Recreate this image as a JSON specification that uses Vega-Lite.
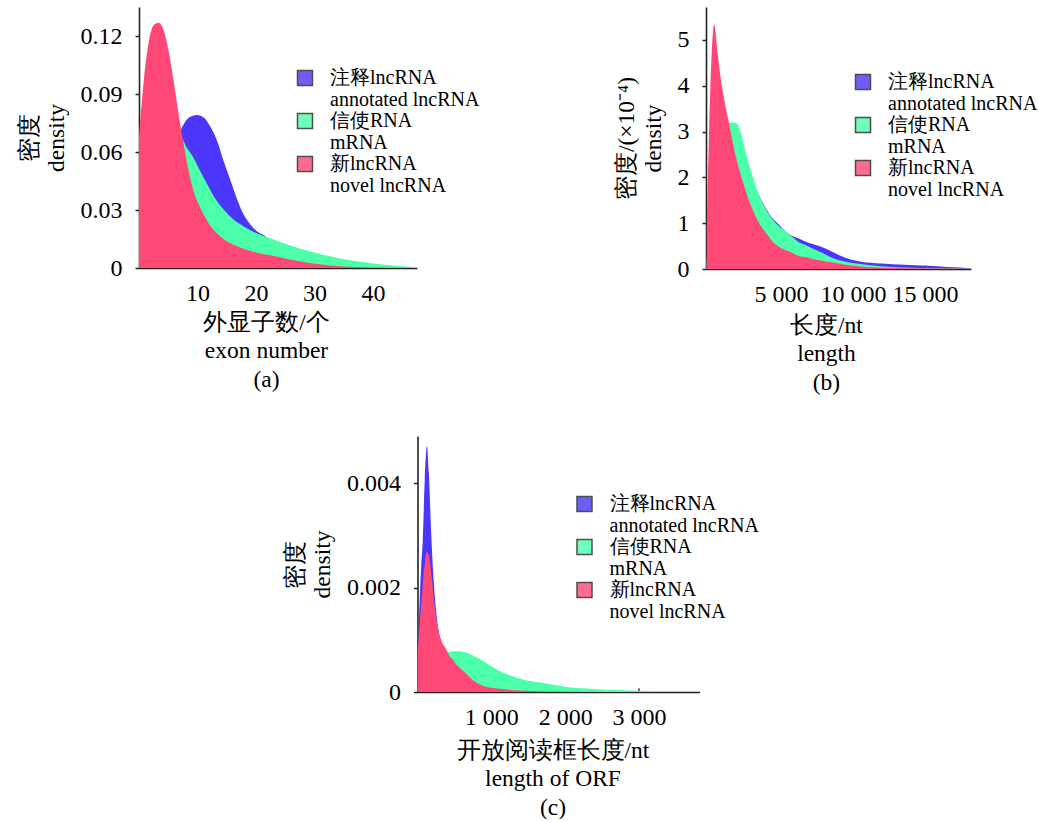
{
  "$schema": "https://vega.github.io/schema/vega-lite/v6.json",
  "background": "white",
  "padding": {"left": 17, "top": 7, "right": 0, "bottom": 0},
  "spacing": 42,
  "center": true,
  "resolve": {"scale": {"color": "independent"}, "legend": {"color": "independent"}},
  "config": {
    "view": {"stroke": null},
    "font": "Liberation Serif",
    "axis": {"grid": false, "domainColor": "#222", "domainWidth": 1.6, "tickColor": "#222", "tickWidth": 1.5, "labelFont": "Liberation Serif", "labelFontSize": 24, "labelColor": "#000", "titleFont": "Liberation Serif", "titleFontSize": 23.5, "titleFontWeight": "normal", "titleColor": "#000", "titleLineHeight": 28.5},
    "axisX": {"tickSize": -4, "labelPadding": 17, "labelFlush": false, "titlePadding": 6},
    "axisY": {"tickSize": 4, "labelPadding": 13, "titleLineHeight": 27, "titlePadding": 12},
    "legend": {"orient": "none", "title": null, "symbolType": "square", "symbolSize": 225, "symbolStrokeColor": "#222", "symbolStrokeWidth": 1.5, "symbolOpacity": 0.8, "labelFont": "Liberation Serif", "labelFontSize": 20, "labelLineHeight": 22, "labelColor": "#000", "labelOffset": 15, "rowPadding": 0, "padding": 0, "labelLimit": 300}
  },
  "vconcat": [
    {
      "hconcat": [
        {
          "width": 278,
          "height": 261,
          "data": {"values": [
            {"s":"A","x":0,"y":0.02},{"s":"A","x":2,"y":0.034},{"s":"A","x":4,"y":0.048},{"s":"A","x":6,"y":0.063},{"s":"A","x":7.09,"y":0.0713},{"s":"A","x":8.23,"y":0.077},{"s":"A","x":9.09,"y":0.0786},{"s":"A","x":9.94,"y":0.0791},{"s":"A","x":11.1,"y":0.0777},{"s":"A","x":12.2,"y":0.073},{"s":"A","x":13.4,"y":0.0653},{"s":"A","x":14.5,"y":0.055},{"s":"A","x":15.7,"y":0.0447},{"s":"A","x":16.8,"y":0.0352},{"s":"A","x":17.9,"y":0.0275},{"s":"A","x":19.1,"y":0.0223},{"s":"A","x":20.2,"y":0.0189},{"s":"A","x":21.7,"y":0.0162},{"s":"A","x":23,"y":0.011},{"s":"A","x":25,"y":0.006},{"s":"A","x":28,"y":0.0025},{"s":"A","x":32,"y":0.0008},{"s":"A","x":36,"y":0.0002},{"s":"A","x":40,"y":0},
            {"s":"G","x":0,"y":0.03},{"s":"G","x":2,"y":0.045},{"s":"G","x":4,"y":0.056},{"s":"G","x":6,"y":0.064},{"s":"G","x":7.09,"y":0.0675},{"s":"G","x":8.23,"y":0.0619},{"s":"G","x":9.37,"y":0.0567},{"s":"G","x":10.5,"y":0.0499},{"s":"G","x":11.7,"y":0.043},{"s":"G","x":12.8,"y":0.037},{"s":"G","x":14.5,"y":0.0301},{"s":"G","x":16.2,"y":0.0249},{"s":"G","x":17.9,"y":0.0215},{"s":"G","x":19.7,"y":0.0185},{"s":"G","x":21.7,"y":0.0162},{"s":"G","x":23.7,"y":0.014},{"s":"G","x":25,"y":0.0125},{"s":"G","x":27.3,"y":0.0102},{"s":"G","x":30.1,"y":0.0079},{"s":"G","x":33,"y":0.0058},{"s":"G","x":35.8,"y":0.0042},{"s":"G","x":38.7,"y":0.0029},{"s":"G","x":41.5,"y":0.0018},{"s":"G","x":44.4,"y":0.001},{"s":"G","x":47.2,"y":0.0004},
            {"s":"N","x":0,"y":0.068},{"s":"N","x":0.8,"y":0.0963},{"s":"N","x":1.66,"y":0.117},{"s":"N","x":2.5,"y":0.1255},{"s":"N","x":3.37,"y":0.1269},{"s":"N","x":4.23,"y":0.123},{"s":"N","x":5.09,"y":0.1117},{"s":"N","x":5.94,"y":0.0963},{"s":"N","x":6.8,"y":0.079},{"s":"N","x":7.66,"y":0.0636},{"s":"N","x":8.5,"y":0.0499},{"s":"N","x":9.37,"y":0.0395},{"s":"N","x":10.5,"y":0.031},{"s":"N","x":11.9,"y":0.0232},{"s":"N","x":13.9,"y":0.0163},{"s":"N","x":16.8,"y":0.0112},{"s":"N","x":19.7,"y":0.0083},{"s":"N","x":23.1,"y":0.0062},{"s":"N","x":27.3,"y":0.0035},{"s":"N","x":30,"y":0.0022},{"s":"N","x":33,"y":0.0012},{"s":"N","x":38.7,"y":0.0004},{"s":"N","x":44,"y":0.0001},{"s":"N","x":47.5,"y":0}
          ]},
          "encoding": {
            "x": {"field": "x", "type": "quantitative", "scale": {"domain": [0, 47.5], "nice": false, "zero": false}, "axis": {"values": [10, 20, 30, 40], "title": ["外显子数/个", "exon number", "(a)"], "titleX": 127, "titlePadding": 5}},
            "y": {"field": "y", "type": "quantitative", "stack": null, "scale": {"domain": [0, 0.135], "nice": false}, "axis": {"values": [0, 0.03, 0.06, 0.09, 0.12], "labelExpr": "datum.value==0?'0':format(datum.value,'.2f')", "title": ["密度", "density"]}},
            "color": {"field": "s", "type": "nominal", "scale": {"domain": ["A", "G", "N"], "range": ["#4b36fa", "#4cffa9", "#ff4876"]}, "legend": {"legendX": 156, "legendY": 61, "labelExpr": "datum.label=='A'?['注释lncRNA','annotated lncRNA']:datum.label=='G'?['信使RNA','mRNA']:['新lncRNA','novel lncRNA']"}}
          },
          "layer": [
            {"transform": [{"filter": "datum.s=='A'"}], "mark": {"type": "area", "interpolate": "monotone", "clip": true}},
            {"transform": [{"filter": "datum.s=='G'"}], "mark": {"type": "area", "interpolate": "monotone", "clip": true}},
            {"transform": [{"filter": "datum.s=='N'"}], "mark": {"type": "area", "interpolate": "monotone", "clip": true}}
          ]
        },
        {
          "width": 265,
          "height": 262,
          "data": {"values": [
            {"s":"A","x":-150,"y":0.1},{"s":"A","x":200,"y":1.5},{"s":"A","x":400,"y":2.2},{"s":"A","x":800,"y":2.5},{"s":"A","x":1400,"y":2.75},{"s":"A","x":2000,"y":2.85},{"s":"A","x":2500,"y":2.55},{"s":"A","x":3000,"y":2.0},{"s":"A","x":3500,"y":1.6},{"s":"A","x":4000,"y":1.3},{"s":"A","x":4422,"y":1.1},{"s":"A","x":4885,"y":0.96},{"s":"A","x":5116,"y":0.88},{"s":"A","x":5579,"y":0.76},{"s":"A","x":6274,"y":0.66},{"s":"A","x":6968,"y":0.57},{"s":"A","x":7663,"y":0.5},{"s":"A","x":8357,"y":0.41},{"s":"A","x":9052,"y":0.3},{"s":"A","x":9900,"y":0.2},{"s":"A","x":10590,"y":0.16},{"s":"A","x":11970,"y":0.12},{"s":"A","x":13590,"y":0.095},{"s":"A","x":15200,"y":0.07},{"s":"A","x":16580,"y":0.045},{"s":"A","x":17500,"y":0.035},{"s":"A","x":18200,"y":0.01},
            {"s":"G","x":-150,"y":0.2},{"s":"G","x":300,"y":1.5},{"s":"G","x":600,"y":2.4},{"s":"G","x":1000,"y":3.0},{"s":"G","x":1412,"y":3.19},{"s":"G","x":1700,"y":3.2},{"s":"G","x":1991,"y":3.16},{"s":"G","x":2222,"y":2.97},{"s":"G","x":2454,"y":2.68},{"s":"G","x":2686,"y":2.39},{"s":"G","x":3033,"y":2.03},{"s":"G","x":3380,"y":1.7},{"s":"G","x":3611,"y":1.52},{"s":"G","x":3959,"y":1.3},{"s":"G","x":4422,"y":1.08},{"s":"G","x":4885,"y":0.93},{"s":"G","x":5348,"y":0.82},{"s":"G","x":5811,"y":0.7},{"s":"G","x":6274,"y":0.58},{"s":"G","x":6737,"y":0.52},{"s":"G","x":7200,"y":0.45},{"s":"G","x":7663,"y":0.38},{"s":"G","x":8126,"y":0.31},{"s":"G","x":8589,"y":0.24},{"s":"G","x":9052,"y":0.19},{"s":"G","x":9970,"y":0.13},{"s":"G","x":11100,"y":0.09},{"s":"G","x":12000,"y":0.06},{"s":"G","x":14000,"y":0.03},{"s":"G","x":16000,"y":0.015},{"s":"G","x":18200,"y":0.004},
            {"s":"N","x":-150,"y":0.9},{"s":"N","x":23,"y":3.1},{"s":"N","x":208,"y":4.8},{"s":"N","x":370,"y":5.34},{"s":"N","x":602,"y":4.72},{"s":"N","x":833,"y":4.14},{"s":"N","x":1065,"y":3.7},{"s":"N","x":1412,"y":3.16},{"s":"N","x":1759,"y":2.61},{"s":"N","x":2107,"y":2.17},{"s":"N","x":2570,"y":1.7},{"s":"N","x":3033,"y":1.3},{"s":"N","x":3496,"y":1.0},{"s":"N","x":3959,"y":0.79},{"s":"N","x":4422,"y":0.6},{"s":"N","x":4885,"y":0.48},{"s":"N","x":5348,"y":0.41},{"s":"N","x":5811,"y":0.35},{"s":"N","x":6274,"y":0.28},{"s":"N","x":6737,"y":0.26},{"s":"N","x":7200,"y":0.22},{"s":"N","x":7663,"y":0.19},{"s":"N","x":8126,"y":0.165},{"s":"N","x":8816,"y":0.13},{"s":"N","x":9970,"y":0.07},{"s":"N","x":11100,"y":0.04},{"s":"N","x":12270,"y":0.03},{"s":"N","x":14580,"y":0.015},{"s":"N","x":18050,"y":0.005}
          ]},
          "encoding": {
            "x": {"field": "x", "type": "quantitative", "scale": {"domain": [-200, 18200], "nice": false, "zero": false}, "axis": {"values": [5000, 10000, 15000], "labelExpr": "replace(format(datum.value, ','), ',', ' ')", "title": ["长度/nt", "length", "(b)"], "titleX": 120, "titlePadding": 7}},
            "y": {"field": "y", "type": "quantitative", "stack": null, "scale": {"domain": [0, 5.72], "nice": false}, "axis": {"values": [0, 1, 2, 3, 4, 5], "format": "d", "title": ["密度/(×10⁻⁴)", "density"]}},
            "color": {"field": "s", "type": "nominal", "scale": {"domain": ["A", "G", "N"], "range": ["#4b36fa", "#4cffa9", "#ff4876"]}, "legend": {"legendX": 147, "legendY": 65, "labelExpr": "datum.label=='A'?['注释lncRNA','annotated lncRNA']:datum.label=='G'?['信使RNA','mRNA']:['新lncRNA','novel lncRNA']"}}
          },
          "layer": [
            {"transform": [{"filter": "datum.s=='A'"}], "mark": {"type": "area", "interpolate": "monotone", "clip": true}},
            {"transform": [{"filter": "datum.s=='G'"}], "mark": {"type": "area", "interpolate": "monotone", "clip": true}},
            {"transform": [{"filter": "datum.s=='N'"}], "mark": {"type": "area", "interpolate": "monotone", "clip": true}}
          ]
        }
      ],
      "spacing": 134,
      "resolve": {"scale": {"color": "independent"}, "legend": {"color": "independent"}}
    },
    {
      "width": 282,
      "height": 256,
      "data": {"values": [
        {"s":"A","x":0,"y":0.0005},{"s":"A","x":27,"y":0.00166},{"s":"A","x":50,"y":0.0024},{"s":"A","x":72,"y":0.00293},{"s":"A","x":99,"y":0.00408},{"s":"A","x":127,"y":0.00471},{"s":"A","x":154,"y":0.0042},{"s":"A","x":185,"y":0.00306},{"s":"A","x":217,"y":0.00217},{"s":"A","x":253,"y":0.00153},{"s":"A","x":289,"y":0.00115},{"s":"A","x":321,"y":0.00098},{"s":"A","x":360,"y":0.0008},{"s":"A","x":420,"y":0.0006},{"s":"A","x":500,"y":0.0004},{"s":"A","x":700,"y":0.0002},{"s":"A","x":1000,"y":0.00005},{"s":"A","x":1500,"y":0},
        {"s":"G","x":0,"y":0.0001},{"s":"G","x":100,"y":0.0002},{"s":"G","x":200,"y":0.0004},{"s":"G","x":300,"y":0.00058},{"s":"G","x":366,"y":0.0007},{"s":"G","x":414,"y":0.00076},{"s":"G","x":482,"y":0.00078},{"s":"G","x":572,"y":0.00078},{"s":"G","x":662,"y":0.00075},{"s":"G","x":752,"y":0.0007},{"s":"G","x":842,"y":0.00063},{"s":"G","x":977,"y":0.00051},{"s":"G","x":1112,"y":0.0004},{"s":"G","x":1247,"y":0.00032},{"s":"G","x":1427,"y":0.00024},{"s":"G","x":1607,"y":0.00019},{"s":"G","x":1800,"y":0.00015},{"s":"G","x":2000,"y":0.0001},{"s":"G","x":2330,"y":0.000064},{"s":"G","x":2556,"y":0.000045},{"s":"G","x":3000,"y":0.000026},{"s":"G","x":3460,"y":0.000013},{"s":"G","x":3820,"y":0.000006},
        {"s":"N","x":0,"y":0.0007},{"s":"N","x":9,"y":0.00089},{"s":"N","x":50,"y":0.00166},{"s":"N","x":95,"y":0.00242},{"s":"N","x":127,"y":0.00268},{"s":"N","x":163,"y":0.00255},{"s":"N","x":199,"y":0.0021},{"s":"N","x":230,"y":0.00166},{"s":"N","x":262,"y":0.00134},{"s":"N","x":298,"y":0.00108},{"s":"N","x":344,"y":0.00092},{"s":"N","x":389,"y":0.00082},{"s":"N","x":437,"y":0.00068},{"s":"N","x":479,"y":0.00062},{"s":"N","x":527,"y":0.00052},{"s":"N","x":570,"y":0.00047},{"s":"N","x":617,"y":0.0004},{"s":"N","x":660,"y":0.00035},{"s":"N","x":707,"y":0.00028},{"s":"N","x":797,"y":0.00018},{"s":"N","x":932,"y":0.0001},{"s":"N","x":1112,"y":0.00006},{"s":"N","x":1382,"y":0.00003},{"s":"N","x":1922,"y":0.00001},{"s":"N","x":2500,"y":0}
      ]},
      "encoding": {
        "x": {"field": "x", "type": "quantitative", "scale": {"domain": [0, 3820], "nice": false, "zero": false}, "axis": {"values": [1000, 2000, 3000], "labelExpr": "replace(format(datum.value, ','), ',', ' ')", "title": ["开放阅读框长度/nt", "length of ORF", "(c)"], "titleX": 135, "titlePadding": 9}},
        "y": {"field": "y", "type": "quantitative", "stack": null, "scale": {"domain": [0, 0.0049], "nice": false}, "axis": {"values": [0, 0.002, 0.004], "labelExpr": "datum.value==0?'0':format(datum.value,'.3f')", "title": ["密度", "density"]}},
        "color": {"field": "s", "type": "nominal", "scale": {"domain": ["A", "G", "N"], "range": ["#4b36fa", "#4cffa9", "#ff4876"]}, "legend": {"legendX": 157, "legendY": 58, "labelExpr": "datum.label=='A'?['注释lncRNA','annotated lncRNA']:datum.label=='G'?['信使RNA','mRNA']:['新lncRNA','novel lncRNA']"}}
      },
      "layer": [
        {"transform": [{"filter": "datum.s=='A'"}], "mark": {"type": "area", "interpolate": "monotone", "clip": true}},
        {"transform": [{"filter": "datum.s=='G'"}], "mark": {"type": "area", "interpolate": "monotone", "clip": true}},
        {"transform": [{"filter": "datum.s=='N'"}], "mark": {"type": "area", "interpolate": "monotone", "clip": true}}
      ]
    }
  ]
}
